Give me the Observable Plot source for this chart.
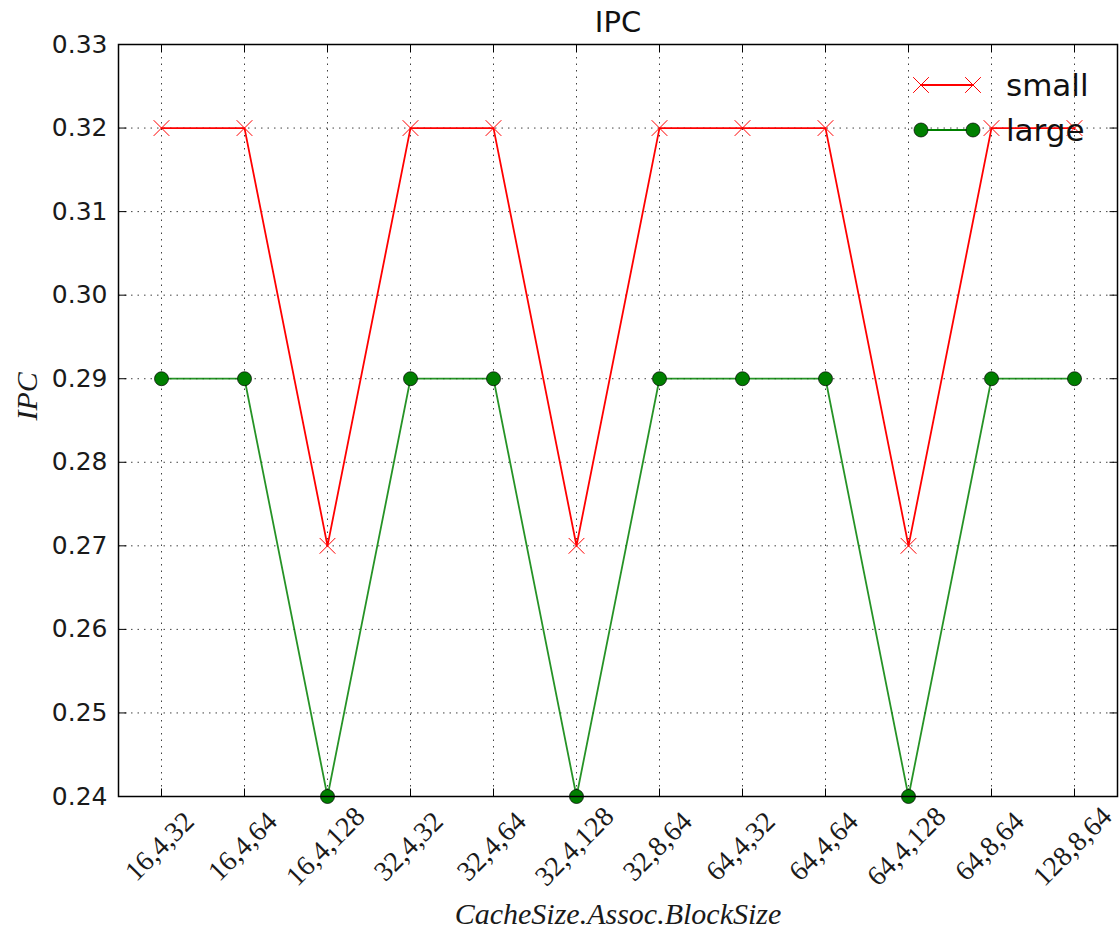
<!DOCTYPE html>
<html><head><meta charset="utf-8">
<script src="https://cdn.jsdelivr.net/npm/d3@7"></script>
<script src="https://cdn.jsdelivr.net/npm/@observablehq/plot@0.6"></script>
<style>
body{margin:0;background:#fff;}
#wrap{position:relative;width:1120px;height:932px;}
#legend{position:absolute;left:0;top:0;}
</style></head><body><div id="wrap"></div>
<script>
const categories = ["16,4,32","16,4,64","16,4,128","32,4,32","32,4,64","32,4,128","32,8,64","64,4,32","64,4,64","64,4,128","64,8,64","128,8,64"];
const smallValues = [0.32,0.32,0.27,0.32,0.32,0.27,0.32,0.32,0.32,0.27,0.32,0.32];
const largeValues = [0.29,0.29,0.24,0.29,0.29,0.24,0.29,0.29,0.29,0.24,0.29,0.29];
const yTicks = [0.24,0.25,0.26,0.27,0.28,0.29,0.30,0.31,0.32,0.33];
const seriesNames = ["small","large"];
const titleText = "IPC";
const xLabelText = "CacheSize.Assoc.BlockSize";
const yLabelText = "IPC";

const smallData = categories.map((c,i)=>({cat:c, v:smallValues[i]}));
const largeData = categories.map((c,i)=>({cat:c, v:largeValues[i]}));

const L = 8;
const tickUp = {draw(ctx){ctx.moveTo(0,0);ctx.lineTo(0,-L);}};
const tickDown = {draw(ctx){ctx.moveTo(0,0);ctx.lineTo(0,L);}};
const tickRight = {draw(ctx){ctx.moveTo(0,0);ctx.lineTo(L,0);}};
const tickLeft = {draw(ctx){ctx.moveTo(0,0);ctx.lineTo(-L,0);}};

const serif = "'Liberation Serif', 'DejaVu Serif', serif";
const sans = "'DejaVu Sans', sans-serif";
const gridStyle = {stroke:"black", strokeOpacity:0.75, strokeWidth:1, strokeDasharray:"1.5,5"};
const redC = "#ff0000", greenC = "#008000", greenFill = "#007f00";

const chart = Plot.plot({
  width: 1120, height: 932,
  marginLeft: 118, marginRight: 3, marginTop: 44, marginBottom: 136,
  style: {fontFamily: sans, background: "white", color: "black"},
  x: {type: "point", domain: categories, padding: 0.48, axis: null},
  y: {domain: [0.24, 0.33], axis: null},
  marks: [
    Plot.gridX(categories, gridStyle),
    Plot.gridY(yTicks, gridStyle),
    Plot.dotX(categories, {x: d=>d, frameAnchor:"bottom", symbol: tickUp, fill:"none", stroke:"black", strokeWidth:1}),
    Plot.dotX(categories, {x: d=>d, frameAnchor:"top", symbol: tickDown, fill:"none", stroke:"black", strokeWidth:1}),
    Plot.dotY(yTicks, {y: d=>d, frameAnchor:"left", symbol: tickRight, fill:"none", stroke:"black", strokeWidth:1}),
    Plot.dotY(yTicks, {y: d=>d, frameAnchor:"right", symbol: tickLeft, fill:"none", stroke:"black", strokeWidth:1}),
    Plot.text(yTicks, {y: d=>d, text: d=>d3.format(".2f")(d), frameAnchor:"left", dx:-11, textAnchor:"end", lineAnchor:"middle", fontSize:25, fill:"#1a1a1a"}),
    Plot.text(categories, {x: d=>d, text: d=>d, frameAnchor:"bottom", dy:50, dx:-2, rotate:-45, textAnchor:"middle", lineAnchor:"middle", fontSize:28, fontFamily: serif, fill:"#1a1a1a"}),
    Plot.line(smallData, {x:"cat", y:"v", stroke:redC, strokeWidth:1.8}),
    Plot.dot(smallData, {x:"cat", y:"v", symbol:"times", r:7.2, stroke:redC, strokeWidth:1}),
    Plot.line(largeData, {x:"cat", y:"v", stroke:greenC, strokeOpacity:0.85, strokeWidth:1.8}),
    Plot.dot(largeData, {x:"cat", y:"v", r:7, fill:greenFill, stroke:"black", strokeWidth:0.7}),
    Plot.frame({stroke:"black", strokeWidth:1.5}),
    Plot.text([titleText], {frameAnchor:"top", dy:-22, lineAnchor:"middle", fontSize:29, fill:"#111"}),
    Plot.text([xLabelText], {frameAnchor:"bottom", dy:118, lineAnchor:"middle", fontSize:30, fontStyle:"italic", fontFamily: serif, fill:"#1a1a1a"}),
    Plot.text([yLabelText], {frameAnchor:"left", dx:-91, rotate:-90, lineAnchor:"middle", fontSize:30, fontStyle:"italic", fontFamily: serif, fill:"#1a1a1a"})
  ]
});
const wrap = document.getElementById("wrap");
wrap.appendChild(chart);

// legend overlay
const leg = d3.select(wrap).append("svg").attr("id","legend").attr("width",1120).attr("height",932)
  .style("pointer-events","none");
const colors = [redC, greenC];
seriesNames.forEach((name, i) => {
  const y = 85 + i * 45;
  const g = leg.append("g");
  g.append("line").attr("x1",921).attr("x2",973).attr("y1",y).attr("y2",y).attr("stroke",colors[i]).attr("stroke-width",1.8);
  [921, 973].forEach(x => {
    if (i === 0) {
      g.append("path").attr("d", d3.symbol(d3.symbolTimes, Math.PI*7.2*7.2)()).attr("transform",`translate(${x},${y})`)
        .attr("stroke",redC).attr("fill","none");
    } else {
      g.append("circle").attr("cx",x).attr("cy",y).attr("r",7).attr("fill",greenFill).attr("stroke","black").attr("stroke-width",0.7);
    }
  });
  g.append("text").attr("x",1006).attr("y",y).attr("dy","0.35em").attr("font-family","'DejaVu Sans', sans-serif")
    .attr("font-size",31).attr("fill","#111").text(name);
});
</script></body></html>
